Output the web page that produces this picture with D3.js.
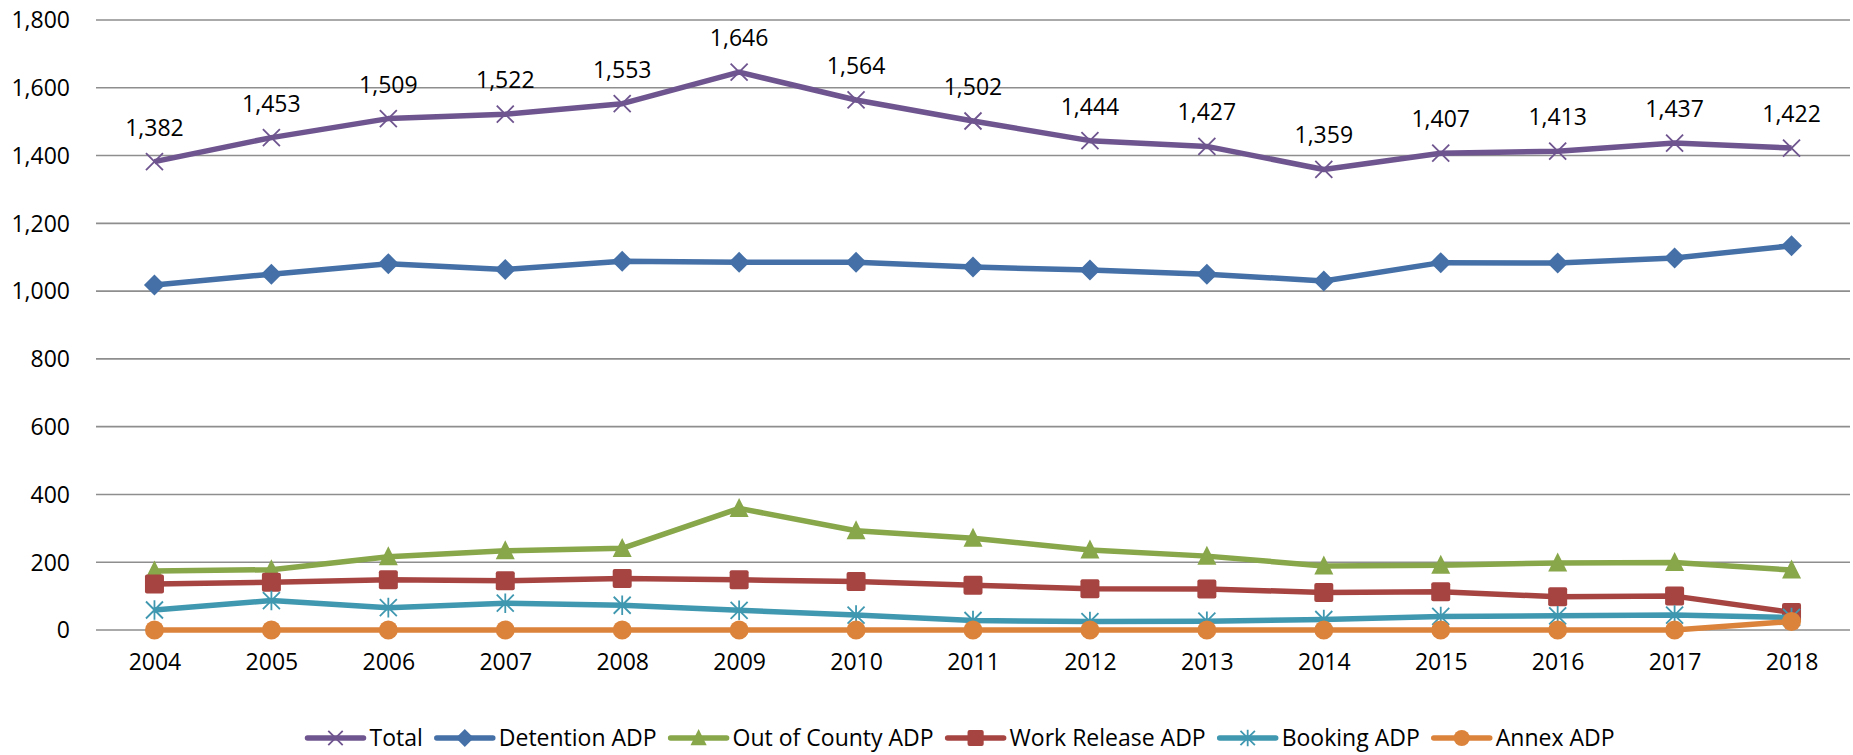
<!DOCTYPE html>
<html>
<head>
<meta charset="utf-8">
<script src="https://cdn.jsdelivr.net/npm/d3@7"></script>
<style>
  html, body { margin: 0; padding: 0; background: #fff; }
  svg { display: block; }
  text { font-family: "Open Sans", "Noto Sans", sans-serif; fill: #000; }
</style>
</head>
<body>
<svg id="chart" width="1853" height="755"></svg>
<script>
const years = ["2004","2005","2006","2007","2008","2009","2010","2011","2012","2013","2014","2015","2016","2017","2018"];
const total = [1382,1453,1509,1522,1553,1646,1564,1502,1444,1427,1359,1407,1413,1437,1422];
const detention = [1018,1050,1081,1064,1088,1085,1085,1071,1062,1050,1030,1084,1083,1098,1134];
const outOfCounty = [174,178,216,234,241,359,293,271,236,218,189,191,198,199,177];
const workRelease = [136,141,148,145,152,148,143,132,122,121,111,113,98,100,52];
const booking = [59,87,66,79,73,58,44,28,25,26,31,40,42,44,37];
const annex = [0,0,0,0,0,0,0,0,0,0,0,0,0,0,25];
const yTicks = [0,200,400,600,800,1000,1200,1400,1600,1800];

const series = [
  {name: "Total", values: total, color: "#6F558F", marker: "x"},
  {name: "Detention ADP", values: detention, color: "#4470A7", marker: "diamond"},
  {name: "Out of County ADP", values: outOfCounty, color: "#88A64A", marker: "triangle"},
  {name: "Work Release ADP", values: workRelease, color: "#A54441", marker: "square"},
  {name: "Booking ADP", values: booking, color: "#3F98B0", marker: "star"},
  {name: "Annex ADP", values: annex, color: "#DC833B", marker: "circle"}
];

(function () {
const svg = d3.select("#chart");
const mLeft = 96, mRight = 1850, mTop = 20, mBottom = 630;

const x = d3.scalePoint().domain(years).range([mLeft, mRight]).padding(0.5);
const y = d3.scaleLinear().domain([0, 1800]).range([mBottom, mTop]);

// gridlines
svg.append("g").selectAll("line").data(yTicks).join("line")
  .attr("x1", mLeft).attr("x2", mRight)
  .attr("y1", d => y(d)).attr("y2", d => y(d))
  .attr("stroke", "#8E8E8E").attr("stroke-width", 1.6);

// y axis labels
const yAxis = d3.axisLeft(y).tickValues(yTicks).tickSize(0).tickPadding(0).tickFormat(d3.format(","));
const yg = svg.append("g").attr("transform", `translate(70,0)`).call(yAxis);
yg.select(".domain").remove();
yg.selectAll("text").attr("font-size", 23).attr("font-family", '"Open Sans", sans-serif').attr("fill", "#000").attr("dy", "0.34em");

// x axis labels
const xAxis = d3.axisBottom(x).tickSize(0).tickPadding(0);
const xg = svg.append("g").attr("transform", `translate(0,${mBottom + 26})`).call(xAxis);
xg.select(".domain").remove();
xg.selectAll("text").attr("font-size", 23).attr("font-family", '"Open Sans", sans-serif').attr("fill", "#000").attr("dy", "0.62em");

function drawMarker(g, type, color, s) {
  const h = s / 2;
  if (type === "x") {
    g.append("path").attr("d", `M${-h},${-h}L${h},${h}M${-h},${h}L${h},${-h}`)
      .attr("stroke", color).attr("stroke-width", 1.8).attr("fill", "none");
  } else if (type === "star") {
    g.append("path").attr("d", `M${-h},${-h}L${h},${h}M${-h},${h}L${h},${-h}M0,${-h * 1.15}L0,${h * 1.15}`)
      .attr("stroke", color).attr("stroke-width", 1.8).attr("fill", "none");
  } else if (type === "diamond") {
    g.append("path").attr("d", `M0,${-h}L${h},0L0,${h}L${-h},0Z`).attr("fill", color);
  } else if (type === "triangle") {
    g.append("path").attr("d", `M0,${-h * 1.1}L${h},${h * 0.9}L${-h},${h * 0.9}Z`).attr("fill", color);
  } else if (type === "square") {
    g.append("rect").attr("x", -h).attr("y", -h).attr("width", s).attr("height", s).attr("rx", 2).attr("fill", color);
  } else if (type === "circle") {
    g.append("circle").attr("r", h).attr("fill", color);
  }
}

const markerSize = {x: 17, star: 17, diamond: 21, triangle: 19, square: 19, circle: 19};

const line = d3.line().x((d, i) => x(years[i])).y(d => y(d));

series.forEach(s => {
  const g = svg.append("g");
  g.append("path").datum(s.values).attr("d", line)
    .attr("fill", "none").attr("stroke", s.color).attr("stroke-width", 5.5)
    .attr("stroke-linejoin", "round");
  s.values.forEach((v, i) => {
    const mg = g.append("g").attr("transform", `translate(${x(years[i])},${y(v)})`);
    drawMarker(mg, s.marker, s.color, markerSize[s.marker]);
  });
});

// data labels for Total
svg.append("g").selectAll("text").data(total).join("text")
  .attr("x", (d, i) => x(years[i]))
  .attr("y", d => y(d) - 26)
  .attr("text-anchor", "middle")
  .attr("font-size", 23)
  .text(d => d3.format(",")(d));

// legend
const legend = svg.append("g");
const legendY = 738;
const lineLen = 56, gapText = 6, gapItem = 14;
const items = series.map(s => {
  const t = legend.append("text").attr("font-size", 23).attr("dy", "0.35em").text(s.name);
  return {s, t, w: t.node().getComputedTextLength()};
});
const totalW = d3.sum(items, d => lineLen + gapText + d.w) + gapItem * (items.length - 1);
let cx = 961 - totalW / 2;
items.forEach(d => {
  const g = legend.append("g");
  g.append("line").attr("x1", cx).attr("x2", cx + lineLen).attr("y1", legendY).attr("y2", legendY)
    .attr("stroke", d.s.color).attr("stroke-width", 5.5).attr("stroke-linecap", "round");
  const mg = g.append("g").attr("transform", `translate(${cx + lineLen / 2},${legendY})`);
  drawMarker(mg, d.s.marker, d.s.color, markerSize[d.s.marker] * 0.85);
  d.t.attr("x", cx + lineLen + gapText).attr("y", legendY);
  cx += lineLen + gapText + d.w + gapItem;
});
})();
</script>
</body>
</html>
